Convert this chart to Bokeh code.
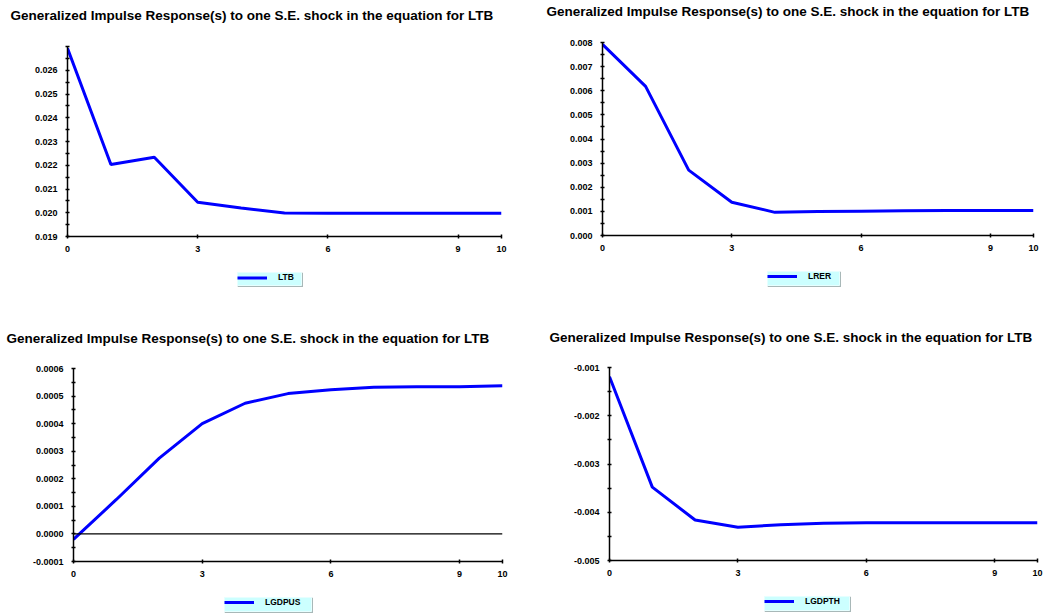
from bokeh.plotting import figure
from bokeh.layouts import column, row
from bokeh.models import (FixedTicker, PrintfTickFormatter, Legend, LegendItem, Span, Range1d, Spacer)
from bokeh.embed import file_html
from bokeh.resources import INLINE

# ---- data ----
periods = [0, 1, 2, 3, 4, 5, 6, 7, 8, 9, 10]
ltb = [0.02692, 0.02203, 0.02234, 0.02044, 0.02020, 0.01999, 0.01998, 0.01998, 0.01998, 0.01998, 0.01998]
lrer = [0.00792, 0.00618, 0.00271, 0.00138, 0.00096, 0.00099, 0.00101, 0.00103, 0.00104, 0.00104, 0.00104]
lgdpus = [-0.00002, 0.000125, 0.000275, 0.00040, 0.000474, 0.000509, 0.000523, 0.000532, 0.000534, 0.000534, 0.000537]
lgdpth = [-0.00119, -0.00348, -0.00416, -0.00431, -0.00426, -0.00423, -0.00422, -0.00422, -0.00422, -0.00422, -0.00422]

x_ticks = [0, 3, 6, 9, 10]
ltb_ticks = [0.019, 0.020, 0.021, 0.022, 0.023, 0.024, 0.025, 0.026]
lrer_ticks = [0.000, 0.001, 0.002, 0.003, 0.004, 0.005, 0.006, 0.007, 0.008]
lgdpus_ticks = [-0.0001, 0.0, 0.0001, 0.0002, 0.0003, 0.0004, 0.0005, 0.0006]
lgdpth_ticks = [-0.005, -0.004, -0.003, -0.002, -0.001]

TITLE = "Generalized Impulse Response(s) to one S.E. shock in the equation for LTB"
FONT = "Liberation Sans"
W = 525
TITLE_SIZE = 13.5
TITLE_H = 1.2 * TITLE_SIZE


def bare(width, height, **kw):
    f = figure(width=width, height=height, output_backend="svg", toolbar_location=None,
               x_axis_type=None, y_axis_type=None, min_border_left=0, min_border_right=0,
               min_border_top=0, min_border_bottom=0, **kw)
    f.outline_line_color = None
    f.background_fill_color = "white"
    f.border_fill_color = "white"
    f.title.text = ""
    return f


def halves(majors):
    return [(majors[i] + majors[i + 1]) / 2 for i in range(len(majors) - 1)]


def panel(series, name, yr, majors, minors, fmt, total_h, frame, title_x, title_c, top_gap,
          leg_box, zero=False):
    fl, fr, ft, fb = frame
    main_top = ft - 8
    main_h = fb - main_top + 22

    # --- title strip (its frame is aligned with the chart frame by the column layout) ---
    title_h = main_top - top_gap
    tf = bare(W, title_h)
    c = title_c - top_gap
    tf.title.text = TITLE
    tf.title.text_font = FONT
    tf.title.text_font_size = "%.1fpx" % TITLE_SIZE
    tf.title.text_font_style = "bold"
    tf.title.text_color = "black"
    tf.title.align = "left"
    tf.title.offset = title_x - fl
    tf.title.standoff = max(0, 2 * c - TITLE_H)
    tf.title.vertical_align = "bottom"

    # --- main chart ---
    p = figure(width=W, height=main_h, output_backend="svg", toolbar_location=None,
               x_range=Range1d(0, 10), y_range=Range1d(yr[0], yr[1]),
               min_border_left=fl, min_border_right=W - fr, min_border_top=8,
               min_border_bottom=22)
    p.outline_line_color = None
    p.grid.visible = False
    p.background_fill_color = "white"
    p.border_fill_color = "white"
    p.title.text = ""
    if zero:
        p.add_layout(Span(location=0, dimension="width", line_color="black", line_width=1.2))
    p.line(periods, series, line_color="#0000ff", line_width=3)

    xax = p.below[0]
    yax = p.left[0]
    for ax in (xax, yax):
        ax.axis_line_color = "black"
        ax.axis_line_width = 1.5
        ax.major_tick_line_color = "black"
        ax.major_tick_line_width = 1.5
        ax.minor_tick_line_color = "black"
        ax.minor_tick_line_width = 1.5
        ax.major_tick_in = 2
        ax.major_tick_out = 2
        ax.minor_tick_in = 2
        ax.minor_tick_out = 2
        ax.major_label_text_font = FONT
        ax.major_label_text_font_size = "9px"
        ax.major_label_text_font_style = "bold"
        ax.major_label_text_color = "black"
    xax.ticker = FixedTicker(ticks=x_ticks, minor_ticks=[])
    xax.major_label_standoff = 7
    yax.ticker = FixedTicker(ticks=majors, minor_ticks=minors)
    yax.formatter = PrintfTickFormatter(format=fmt)
    yax.major_label_standoff = 8

    # --- legend box (own small canvas, with a drop shadow) ---
    lx, ly, lw, lh = leg_box
    lf = figure(width=lw + 2, height=lh + 2, output_backend="svg", toolbar_location=None,
                x_axis_type=None, y_axis_type=None, min_border_left=0, min_border_top=0,
                min_border_right=2, min_border_bottom=2)
    lf.title.text = ""
    lf.background_fill_color = "#ccffff"
    lf.border_fill_color = "#a8b8b8"
    lf.outline_line_color = "#e6ffff"
    lr = lf.line(periods, series, line_color="#0000ff", line_width=3)
    lr.visible = False
    pad = 2
    leg = Legend(items=[LegendItem(label=name, renderers=[lr])], location="top_left",
                 background_fill_alpha=0.0, border_line_color=None,
                 padding=pad, margin=0, spacing=0, glyph_width=30, glyph_height=lh - 2 * pad,
                 label_height=lh - 2 * pad, label_standoff=11,
                 label_text_font=FONT, label_text_font_size="8.5px", label_text_font_style="bold",
                 label_text_color="black")
    lf.add_layout(leg, "center")

    gap = ly - (main_top + main_h)
    rest = total_h - (ly + lh + 2)
    items = []
    if top_gap > 0:
        items.append(Spacer(width=W, height=top_gap))
    items += [tf, p, Spacer(width=W, height=gap),
              row(Spacer(width=lx, height=lh + 2), lf)]
    if rest > 0:
        items.append(Spacer(width=W, height=rest))
    return column(*items)


c1 = panel(ltb, "LTB", (0.019, 0.027), ltb_ticks, halves(ltb_ticks) + [0.0265, 0.027], "%.3f",
           300, (67, 501, 46, 236), 10, 13.5, 0, (237, 272, 64, 13))
c2 = panel(lrer, "LRER", (0.0, 0.008), lrer_ticks, halves(lrer_ticks), "%.3f",
           300, (77, 508, 42, 235), 21, 9.5, 0, (242, 271, 72, 14))
c3 = panel(lgdpus, "LGDPUS", (-0.0001, 0.0006), lgdpus_ticks, halves(lgdpus_ticks), "%.4f",
           314, (73, 502, 68, 261), 6, 36.6, 24, (224, 297, 87, 14), zero=True)
c4 = panel(lgdpth, "LGDPTH", (-0.005, -0.001), lgdpth_ticks, halves(lgdpth_ticks), "%.3f",
           314, (84, 512, 67, 260), 24, 35.0, 22, (239, 296, 85, 14))

layout = column(row(c1, c2), row(c3, c4))
open("out.html", "w").write(file_html(layout, INLINE))
